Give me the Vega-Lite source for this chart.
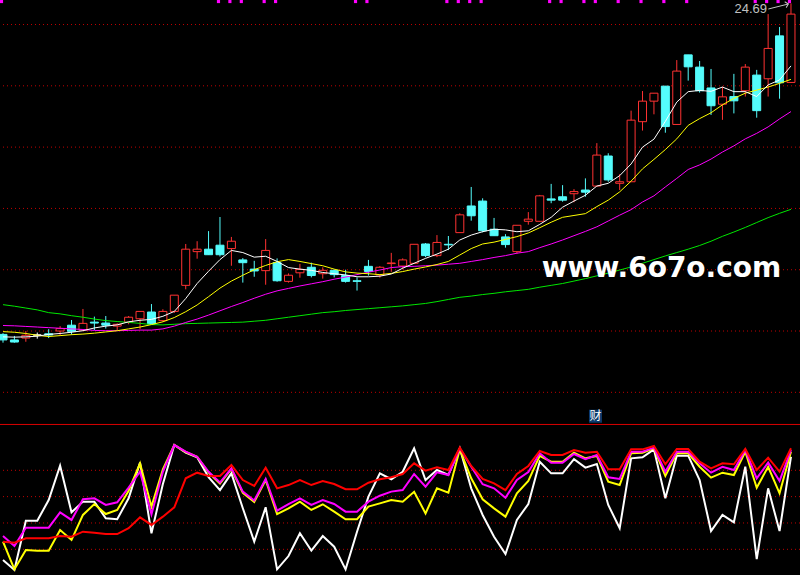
{
  "$schema": "https://vega.github.io/schema/vega-lite/v6.json",
  "width": 800,
  "height": 575,
  "autosize": "none",
  "padding": 0,
  "background": "#000000",
  "config": {"view": {"stroke": null}},
  "data": {"values": [
    {"i":0,"o":13.89,"h":13.93,"l":13.62,"c":13.71,"ma5":13.81,"ma10":13.98,"ma20":14.18,"ma60":14.86,"w":11.9,"yl":25.8,"mg":30.1,"rd":25.8,"f":1},
    {"i":1,"o":13.71,"h":13.84,"l":13.62,"c":13.64,"ma5":13.80,"ma10":13.96,"ma20":14.17,"ma60":14.81,"w":4.3,"yl":4.8,"mg":22.5,"rd":25.0},
    {"i":2,"o":13.77,"h":14.00,"l":13.65,"c":13.86,"ma5":13.81,"ma10":13.92,"ma20":14.15,"ma60":14.75,"w":41.7,"yl":19.5,"mg":36.4,"rd":28.4},
    {"i":3,"o":13.87,"h":13.95,"l":13.75,"c":13.87,"ma5":13.83,"ma10":13.86,"ma20":14.13,"ma60":14.69,"w":41.7,"yl":19.0,"mg":36.4,"rd":28.4},
    {"i":4,"o":13.91,"h":14.06,"l":13.77,"c":13.87,"ma5":13.89,"ma10":13.82,"ma20":14.11,"ma60":14.60,"w":57.4,"yl":19.0,"mg":36.4,"rd":28.4},
    {"i":5,"o":14.00,"h":14.16,"l":13.87,"c":14.08,"ma5":13.92,"ma10":13.85,"ma20":14.09,"ma60":14.56,"w":83.5,"yl":34.7,"mg":48.1,"rd":30.1},
    {"i":6,"o":14.19,"h":14.36,"l":13.88,"c":13.99,"ma5":13.96,"ma10":13.88,"ma20":14.07,"ma60":14.50,"w":48.1,"yl":27.1,"mg":42.3,"rd":29.6},
    {"i":7,"o":14.03,"h":14.72,"l":14.01,"c":14.25,"ma5":14.01,"ma10":13.90,"ma20":14.05,"ma60":14.45,"w":56.2,"yl":46.1,"mg":58.0,"rd":33.4},
    {"i":8,"o":14.29,"h":14.47,"l":14.03,"c":14.26,"ma5":14.10,"ma10":13.93,"ma20":14.02,"ma60":14.39,"w":56.2,"yl":54.4,"mg":58.7,"rd":32.6},
    {"i":9,"o":14.26,"h":14.49,"l":14.08,"c":14.19,"ma5":14.16,"ma10":13.97,"ma20":14.01,"ma60":14.34,"w":43.6,"yl":46.8,"mg":53.7,"rd":31.6},
    {"i":10,"o":14.16,"h":14.25,"l":14.03,"c":14.22,"ma5":14.20,"ma10":14.01,"ma20":14.01,"ma60":14.31,"w":42.8,"yl":49.9,"mg":55.7,"rd":31.6},
    {"i":11,"o":14.29,"h":14.49,"l":14.22,"c":14.45,"ma5":14.30,"ma10":14.07,"ma20":14.02,"ma60":14.28,"w":58.7,"yl":64.5,"mg":66.8,"rd":36.0},
    {"i":12,"o":14.40,"h":14.64,"l":14.06,"c":14.64,"ma5":14.35,"ma10":14.13,"ma20":14.03,"ma60":14.25,"w":85.8,"yl":85.3,"mg":78.9,"rd":44.3},
    {"i":13,"o":14.62,"h":14.88,"l":14.23,"c":14.23,"ma5":14.38,"ma10":14.21,"ma20":14.03,"ma60":14.21,"w":32.2,"yl":52.4,"mg":46.6,"rd":38.5},
    {"i":14,"o":14.34,"h":14.71,"l":14.30,"c":14.64,"ma5":14.48,"ma10":14.30,"ma20":14.07,"ma60":14.20,"w":69.6,"yl":80.8,"mg":78.9,"rd":44.8},
    {"i":15,"o":14.64,"h":15.17,"l":14.59,"c":15.17,"ma5":14.64,"ma10":14.44,"ma20":14.16,"ma60":14.22,"w":99.2,"yl":99.2,"mg":99.2,"rd":51.9},
    {"i":16,"o":15.49,"h":16.84,"l":15.36,"c":16.67,"ma5":15.06,"ma10":14.63,"ma20":14.28,"ma60":14.24,"w":93.4,"yl":93.9,"mg":94.1,"rd":73.9},
    {"i":17,"o":16.59,"h":16.93,"l":16.36,"c":16.67,"ma5":15.55,"ma10":14.85,"ma20":14.39,"ma60":14.25,"w":89.9,"yl":90.3,"mg":90.3,"rd":78.2},
    {"i":18,"o":16.67,"h":17.26,"l":16.49,"c":16.49,"ma5":15.95,"ma10":15.12,"ma20":14.52,"ma60":14.26,"w":74.7,"yl":78.3,"mg":78.9,"rd":75.7},
    {"i":19,"o":16.80,"h":17.72,"l":16.43,"c":16.49,"ma5":16.33,"ma10":15.40,"ma20":14.66,"ma60":14.27,"w":65.0,"yl":70.0,"mg":70.7,"rd":75.7,"f":1},
    {"i":20,"o":16.69,"h":17.07,"l":16.13,"c":16.93,"ma5":16.63,"ma10":15.63,"ma20":14.80,"ma60":14.28,"w":77.7,"yl":81.0,"mg":81.5,"rd":84.0,"f":1},
    {"i":21,"o":16.32,"h":16.38,"l":15.58,"c":16.23,"ma5":16.56,"ma10":15.82,"ma20":14.93,"ma60":14.29,"w":51.2,"yl":62.8,"mg":63.8,"rd":72.6,"f":1},
    {"i":22,"o":16.02,"h":16.29,"l":15.77,"c":15.96,"ma5":16.41,"ma10":16.00,"ma20":15.07,"ma60":14.32,"w":25.8,"yl":55.9,"mg":57.1,"rd":68.1},
    {"i":23,"o":15.97,"h":17.00,"l":15.51,"c":16.63,"ma5":16.44,"ma10":16.14,"ma20":15.20,"ma60":14.35,"w":51.9,"yl":72.6,"mg":73.4,"rd":82.0,"f":1},
    {"i":24,"o":16.23,"h":16.37,"l":15.61,"c":15.64,"ma5":16.27,"ma10":16.26,"ma20":15.31,"ma60":14.40,"w":4.8,"yl":46.8,"mg":49.3,"rd":66.3,"f":1},
    {"i":25,"o":15.62,"h":15.88,"l":15.58,"c":15.82,"ma5":16.07,"ma10":16.33,"ma20":15.39,"ma60":14.45,"w":14.9,"yl":51.1,"mg":54.4,"rd":68.8},
    {"i":26,"o":15.90,"h":16.19,"l":15.74,"c":16.01,"ma5":16.02,"ma10":16.27,"ma20":15.47,"ma60":14.50,"w":32.2,"yl":56.2,"mg":58.7,"rd":72.6},
    {"i":27,"o":16.08,"h":16.23,"l":15.75,"c":15.81,"ma5":15.98,"ma10":16.20,"ma20":15.54,"ma60":14.55,"w":19.0,"yl":49.9,"mg":53.7,"rd":68.8},
    {"i":28,"o":15.87,"h":16.08,"l":15.71,"c":15.98,"ma5":15.91,"ma10":16.13,"ma20":15.61,"ma60":14.60,"w":30.1,"yl":54.2,"mg":57.4,"rd":71.9},
    {"i":29,"o":15.98,"h":16.01,"l":15.75,"c":15.84,"ma5":15.87,"ma10":16.02,"ma20":15.69,"ma60":14.63,"w":22.0,"yl":48.6,"mg":54.4,"rd":69.6},
    {"i":30,"o":15.81,"h":16.00,"l":15.58,"c":15.62,"ma5":15.83,"ma10":15.93,"ma20":15.76,"ma60":14.67,"w":4.8,"yl":42.8,"mg":48.6,"rd":65.6},
    {"i":31,"o":15.64,"h":15.75,"l":15.32,"c":15.62,"ma5":15.77,"ma10":15.89,"ma20":15.84,"ma60":14.70,"w":33.4,"yl":42.8,"mg":48.6,"rd":65.6,"f":1},
    {"i":32,"o":16.11,"h":16.32,"l":15.81,"c":15.94,"ma5":15.77,"ma10":15.87,"ma20":15.92,"ma60":14.73,"w":60.0,"yl":52.4,"mg":56.2,"rd":70.6,"f":1},
    {"i":33,"o":15.83,"h":16.12,"l":15.74,"c":16.08,"ma5":15.79,"ma10":15.84,"ma20":15.99,"ma60":14.76,"w":77.7,"yl":54.9,"mg":60.7,"rd":73.2},
    {"i":34,"o":16.20,"h":16.55,"l":15.93,"c":16.22,"ma5":15.86,"ma10":15.88,"ma20":16.07,"ma60":14.79,"w":73.2,"yl":57.4,"mg":63.8,"rd":74.7},
    {"i":35,"o":16.12,"h":16.37,"l":16.01,"c":16.32,"ma5":16.05,"ma10":15.94,"ma20":16.10,"ma60":14.82,"w":78.9,"yl":56.2,"mg":65.0,"rd":77.2},
    {"i":36,"o":16.21,"h":16.83,"l":16.21,"c":16.83,"ma5":16.21,"ma10":16.02,"ma20":16.11,"ma60":14.86,"w":96.7,"yl":63.7,"mg":77.2,"rd":85.3},
    {"i":37,"o":16.84,"h":16.87,"l":16.41,"c":16.46,"ma5":16.37,"ma10":16.09,"ma20":16.13,"ma60":14.90,"w":72.6,"yl":47.3,"mg":67.6,"rd":79.7},
    {"i":38,"o":16.46,"h":17.13,"l":16.41,"c":16.89,"ma5":16.51,"ma10":16.17,"ma20":16.15,"ma60":14.96,"w":80.2,"yl":66.3,"mg":78.5,"rd":82.3},
    {"i":39,"o":16.83,"h":17.10,"l":16.64,"c":16.81,"ma5":16.67,"ma10":16.27,"ma20":16.18,"ma60":15.03,"w":76.4,"yl":63.0,"mg":76.4,"rd":80.2,"f":1},
    {"i":40,"o":17.21,"h":17.84,"l":17.21,"c":17.79,"ma5":16.97,"ma10":16.48,"ma20":16.21,"ma60":15.10,"w":96.7,"yl":95.9,"mg":96.7,"rd":97.2,"f":1},
    {"i":41,"o":18.08,"h":18.70,"l":17.60,"c":17.76,"ma5":17.13,"ma10":16.69,"ma20":16.27,"ma60":15.14,"w":66.3,"yl":73.9,"mg":82.7,"rd":83.3,"f":1},
    {"i":42,"o":18.24,"h":18.33,"l":17.22,"c":17.27,"ma5":17.24,"ma10":16.84,"ma20":16.33,"ma60":15.19,"w":46.1,"yl":58.0,"mg":69.4,"rd":73.4,"f":1},
    {"i":43,"o":17.32,"h":17.69,"l":17.11,"c":17.11,"ma5":17.32,"ma10":16.90,"ma20":16.40,"ma60":15.23,"w":29.6,"yl":51.1,"mg":66.3,"rd":70.1},
    {"i":44,"o":17.07,"h":17.16,"l":16.72,"c":16.82,"ma5":17.30,"ma10":16.99,"ma20":16.46,"ma60":15.28,"w":16.4,"yl":44.8,"mg":59.2,"rd":65.0},
    {"i":45,"o":16.59,"h":17.45,"l":16.52,"c":17.45,"ma5":17.24,"ma10":17.08,"ma20":16.54,"ma60":15.32,"w":42.3,"yl":62.5,"mg":72.6,"rd":77.2},
    {"i":46,"o":17.58,"h":17.88,"l":17.47,"c":17.65,"ma5":17.27,"ma10":17.20,"ma20":16.59,"ma60":15.36,"w":54.4,"yl":71.9,"mg":78.7,"rd":83.3},
    {"i":47,"o":17.58,"h":18.44,"l":17.58,"c":18.41,"ma5":17.48,"ma10":17.37,"ma20":16.72,"ma60":15.43,"w":86.5,"yl":90.9,"mg":92.9,"rd":94.7},
    {"i":48,"o":18.31,"h":18.80,"l":18.17,"c":18.27,"ma5":17.71,"ma10":17.55,"ma20":16.84,"ma60":15.49,"w":77.7,"yl":86.5,"mg":85.8,"rd":91.6,"f":1},
    {"i":49,"o":18.38,"h":18.76,"l":18.22,"c":18.27,"ma5":18.04,"ma10":17.71,"ma20":16.97,"ma60":15.55,"w":77.7,"yl":86.5,"mg":85.8,"rd":91.6,"f":1},
    {"i":50,"o":18.48,"h":18.63,"l":18.20,"c":18.55,"ma5":18.24,"ma10":17.77,"ma20":17.11,"ma60":15.63,"w":88.4,"yl":93.4,"mg":92.4,"rd":95.4},
    {"i":51,"o":18.60,"h":18.98,"l":18.38,"c":18.53,"ma5":18.43,"ma10":17.83,"ma20":17.25,"ma60":15.71,"w":82.0,"yl":89.1,"mg":88.4,"rd":93.4,"f":1},
    {"i":52,"o":18.73,"h":20.13,"l":18.73,"c":19.74,"ma5":18.73,"ma10":18.06,"ma20":17.40,"ma60":15.80,"w":84.8,"yl":90.9,"mg":91.6,"rd":94.1,"f":1},
    {"i":53,"o":19.71,"h":19.80,"l":18.87,"c":18.93,"ma5":18.82,"ma10":18.27,"ma20":17.59,"ma60":15.89,"w":53.7,"yl":71.3,"mg":74.7,"rd":80.8},
    {"i":54,"o":18.82,"h":19.12,"l":18.60,"c":18.87,"ma5":19.07,"ma10":18.54,"ma20":17.78,"ma60":15.99,"w":36.0,"yl":68.8,"mg":73.4,"rd":80.8,"f":1},
    {"i":55,"o":18.87,"h":21.19,"l":18.87,"c":20.88,"ma5":19.45,"ma10":18.89,"ma20":17.96,"ma60":16.09,"w":89.1,"yl":92.9,"mg":94.1,"rd":95.9},
    {"i":56,"o":20.83,"h":21.83,"l":20.54,"c":21.50,"ma5":20.00,"ma10":19.29,"ma20":18.21,"ma60":16.21,"w":89.9,"yl":93.4,"mg":94.1,"rd":95.9,"f":1},
    {"i":57,"o":21.50,"h":21.76,"l":21.07,"c":21.76,"ma5":20.26,"ma10":19.60,"ma20":18.41,"ma60":16.33,"w":95.9,"yl":96.7,"mg":97.2,"rd":98.5},
    {"i":58,"o":21.99,"h":21.99,"l":20.47,"c":20.67,"ma5":20.84,"ma10":19.92,"ma20":18.70,"ma60":16.45,"w":58.7,"yl":75.7,"mg":78.9,"rd":84.6,"f":1},
    {"i":59,"o":20.74,"h":22.84,"l":20.74,"c":22.48,"ma5":21.47,"ma10":20.27,"ma20":18.98,"ma60":16.56,"w":91.1,"yl":92.9,"mg":94.1,"rd":96.2},
    {"i":60,"o":23.01,"h":23.01,"l":22.17,"c":22.62,"ma5":21.81,"ma10":20.71,"ma20":19.27,"ma60":16.67,"w":91.1,"yl":92.9,"mg":94.1,"rd":96.2,"f":1},
    {"i":61,"o":22.61,"h":22.81,"l":21.78,"c":21.84,"ma5":21.85,"ma10":20.93,"ma20":19.42,"ma60":16.79,"w":72.6,"yl":82.7,"mg":85.3,"rd":86.5},
    {"i":62,"o":21.93,"h":22.55,"l":21.05,"c":21.35,"ma5":21.82,"ma10":21.12,"ma20":19.61,"ma60":16.93,"w":33.9,"yl":74.4,"mg":78.2,"rd":81.5},
    {"i":63,"o":21.40,"h":21.97,"l":20.89,"c":21.64,"ma5":21.96,"ma10":21.38,"ma20":19.84,"ma60":17.09,"w":46.1,"yl":78.2,"mg":82.7,"rd":85.3},
    {"i":64,"o":21.65,"h":22.39,"l":21.10,"c":21.51,"ma5":21.81,"ma10":21.59,"ma20":20.04,"ma60":17.23,"w":40.5,"yl":76.4,"mg":80.2,"rd":84.6},
    {"i":65,"o":21.84,"h":22.71,"l":21.65,"c":22.61,"ma5":21.81,"ma10":21.76,"ma20":20.27,"ma60":17.38,"w":82.7,"yl":94.1,"mg":95.4,"rd":96.2},
    {"i":66,"o":22.35,"h":22.52,"l":20.96,"c":21.19,"ma5":21.65,"ma10":21.86,"ma20":20.45,"ma60":17.54,"w":12.6,"yl":66.8,"mg":73.9,"rd":80.2,"f":1},
    {"i":67,"o":22.23,"h":24.34,"l":21.65,"c":23.22,"ma5":22.03,"ma10":21.96,"ma20":20.66,"ma60":17.70,"w":66.3,"yl":82.7,"mg":85.8,"rd":89.6,"f":1},
    {"i":68,"o":23.63,"h":23.92,"l":21.58,"c":22.10,"ma5":22.19,"ma10":22.08,"ma20":20.92,"ma60":17.84,"w":33.9,"yl":62.5,"mg":71.9,"rd":78.9,"f":1},
    {"i":69,"o":22.11,"h":24.69,"l":22.11,"c":24.34,"ma5":22.65,"ma10":22.21,"ma20":21.16,"ma60":17.97,"w":90.3,"yl":94.1,"mg":95.4,"rd":96.7,"f":1}
  ]},
  "resolve": {"scale": {"y": "independent"}},
  "layer": [
    {
      "layer": [
        {
          "data": {"values": [{"g":12},{"g":14},{"g":16},{"g":18},{"g":20},{"g":22},{"g":24}]},
          "mark": {"type": "rule", "color": "#c00000", "strokeDash": [1, 3], "strokeWidth": 1},
          "encoding": {"y": {"field": "g", "type": "quantitative", "scale": {"domain": [6.04, 24.8], "nice": false, "zero": false}, "axis": null}}
        },
        {
          "mark": {"type": "rule", "strokeWidth": 1},
          "encoding": {
            "x": {"field": "i", "type": "quantitative", "scale": {"domain": [-0.2627, 69.79], "nice": false, "zero": false, "padding": 0}, "axis": null},
            "y": {"field": "l", "type": "quantitative", "scale": {"domain": [6.04, 24.8], "nice": false, "zero": false}, "axis": null},
            "y2": {"field": "h"},
            "color": {"condition": [{"test": "datum.c > datum.o", "value": "#ff3232"}, {"test": "datum.c < datum.o", "value": "#54fcfc"}], "value": "#ffffff"}
          }
        },
        {
          "mark": {"type": "bar", "size": 8, "strokeWidth": 1},
          "encoding": {
            "x": {"field": "i", "type": "quantitative", "axis": null},
            "y": {"field": "o", "type": "quantitative", "axis": null},
            "y2": {"field": "c"},
            "fill": {"condition": [{"test": "datum.c > datum.o", "value": "#000000"}, {"test": "datum.c < datum.o", "value": "#54fcfc"}], "value": "#ffffff"},
            "stroke": {"condition": [{"test": "datum.c > datum.o", "value": "#ff3232"}, {"test": "datum.c < datum.o", "value": "#54fcfc"}], "value": "#ffffff"}
          }
        },
        {
          "mark": {"type": "line", "color": "#00e800", "strokeWidth": 1},
          "encoding": {"x": {"field": "i", "type": "quantitative", "axis": null}, "y": {"field": "ma60", "type": "quantitative", "axis": null}}
        },
        {
          "mark": {"type": "line", "color": "#ff00ff", "strokeWidth": 1},
          "encoding": {"x": {"field": "i", "type": "quantitative", "axis": null}, "y": {"field": "ma20", "type": "quantitative", "axis": null}}
        },
        {
          "mark": {"type": "line", "color": "#ffff00", "strokeWidth": 1},
          "encoding": {"x": {"field": "i", "type": "quantitative", "axis": null}, "y": {"field": "ma10", "type": "quantitative", "axis": null}}
        },
        {
          "mark": {"type": "line", "color": "#ffffff", "strokeWidth": 1},
          "encoding": {"x": {"field": "i", "type": "quantitative", "axis": null}, "y": {"field": "ma5", "type": "quantitative", "axis": null}}
        },
        {
          "transform": [{"filter": "datum.f == 1"}],
          "mark": {"type": "square", "color": "#ff00ff", "size": 10, "opacity": 1, "xOffset": -1.5},
          "encoding": {"x": {"field": "i", "type": "quantitative", "axis": null}, "y": {"datum": 24.75, "type": "quantitative", "axis": null}}
        },
        {
          "data": {"values": [{"i": 57.66, "p": 15.76, "t": "www.6o7o.com"}]},
          "mark": {"type": "text", "font": "DejaVu Sans", "fontWeight": "bold", "fontSize": 28, "color": "#ffffff", "align": "center", "baseline": "alphabetic"},
          "encoding": {"x": {"field": "i", "type": "quantitative", "axis": null}, "y": {"field": "p", "type": "quantitative", "axis": null}, "text": {"field": "t"}}
        },
        {
          "data": {"values": [{"i": 51.88, "p": 11.22, "t": "财"}]},
          "layer": [
            {"mark": {"type": "square", "color": "#0b3a6a", "size": 169, "opacity": 1},
             "encoding": {"x": {"field": "i", "type": "quantitative", "axis": null}, "y": {"field": "p", "type": "quantitative", "axis": null}}},
            {"mark": {"type": "text", "font": "Noto Sans CJK SC", "fontSize": 12, "color": "#ffffff", "align": "center", "baseline": "middle"},
             "encoding": {"x": {"field": "i", "type": "quantitative", "axis": null}, "y": {"field": "p", "type": "quantitative", "axis": null}, "text": {"field": "t"}}}
          ]
        },
        {
          "data": {"values": [{"i": 66.9, "p": 24.376, "t": "24.69"}]},
          "mark": {"type": "text", "font": "Liberation Sans", "fontSize": 13, "color": "#c0c0c0", "align": "right", "baseline": "alphabetic"},
          "encoding": {"x": {"field": "i", "type": "quantitative", "axis": null}, "y": {"field": "p", "type": "quantitative", "axis": null}, "text": {"field": "t"}}
        },
        {
          "data": {"values": [{"i": 67.02, "p": 24.506}, {"i": 68.77, "p": 24.67}]},
          "mark": {"type": "line", "color": "#c0c0c0", "strokeWidth": 1},
          "encoding": {"x": {"field": "i", "type": "quantitative", "axis": null}, "y": {"field": "p", "type": "quantitative", "axis": null}}
        },
        {
          "data": {"values": [{"i": 68.77, "p": 24.67}]},
          "mark": {"type": "point", "shape": "M-1,-1L0,0L-1,1", "angle": -14, "size": 36, "filled": false, "stroke": "#c0c0c0", "strokeWidth": 1, "opacity": 1},
          "encoding": {"x": {"field": "i", "type": "quantitative", "axis": null}, "y": {"field": "p", "type": "quantitative", "axis": null}}
        }
      ]
    },
    {
      "layer": [
        {
          "data": {"values": [{"g":20},{"g":40},{"g":60},{"g":80}]},
          "mark": {"type": "rule", "color": "#c00000", "strokeDash": [1, 3], "strokeWidth": 1},
          "encoding": {"y": {"field": "g", "type": "quantitative", "scale": {"domain": [0.5, 437.1], "nice": false, "zero": false}, "axis": null}}
        },
        {
          "data": {"values": [{"s": 114.8}]},
          "mark": {"type": "rule", "color": "#d80000", "strokeWidth": 1},
          "encoding": {"y": {"field": "s", "type": "quantitative", "axis": null}}
        },
        {
          "mark": {"type": "line", "color": "#ffffff", "strokeWidth": 2},
          "encoding": {"x": {"field": "i", "type": "quantitative", "axis": null}, "y": {"field": "w", "type": "quantitative", "axis": null}}
        },
        {
          "mark": {"type": "line", "color": "#ffff00", "strokeWidth": 2},
          "encoding": {"x": {"field": "i", "type": "quantitative", "axis": null}, "y": {"field": "yl", "type": "quantitative", "axis": null}}
        },
        {
          "mark": {"type": "line", "color": "#ff00ff", "strokeWidth": 2},
          "encoding": {"x": {"field": "i", "type": "quantitative", "axis": null}, "y": {"field": "mg", "type": "quantitative", "axis": null}}
        },
        {
          "mark": {"type": "line", "color": "#ff0000", "strokeWidth": 2},
          "encoding": {"x": {"field": "i", "type": "quantitative", "axis": null}, "y": {"field": "rd", "type": "quantitative", "axis": null}}
        }
      ]
    }
  ]
}
